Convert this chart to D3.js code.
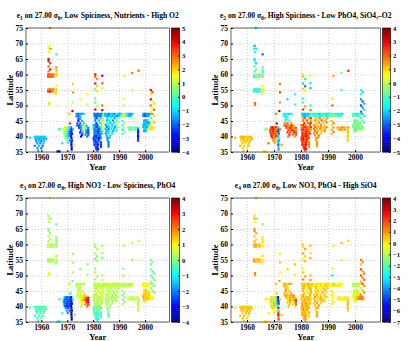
<!DOCTYPE html>
<html>
<head>
<meta charset="utf-8">
<script src="https://cdn.jsdelivr.net/npm/d3@7"></script>
<style>
  body { margin: 0; background: #fff; }
  svg { display: block; }
  .tick text { font-family: "Liberation Serif", "Times New Roman", serif; font-weight: bold; }
  .grid line { stroke: #b8b8b8; stroke-dasharray: 1,2; stroke-width: 0.7; }
  .grid path { display: none; }
</style>
</head>
<body>
<svg width="408" height="341"></svg>
<script>
// observation positions (year, latitude), same stations in every panel
var years = [
  1955.6,1957.5,1958.0,1958.5,1959.0,1959.5,1960.0,1960.5,1961.0,1961.5,
  1957.8,1958.6,1959.4,1960.2,1961.0,1961.8,
  1958.0,1959.0,1960.0,1961.0,1958.4,1959.6,1960.8,
  1957.5,1959.0,1960.5,1958.5,1960.0,1958.8,
  1963.3,1962.8,1962.8,1963.6,1963.0,1962.8,1962.8,1963.4,1962.8,1963.4,1962.8,1962.6,1963.3,1964.0,
  1964.7,1962.6,1963.3,1964.0,1964.7,1962.6,1963.3,1964.0,1964.7,1962.6,1963.3,1964.0,1964.7,1963.0,1963.0,
  1965.8,1965.8,1965.8,1965.8,1965.8,1965.8,1965.8,1965.8,1965.8,1965.6,
  1966.3,1967.0,1967.3,1966.8,
  1969.0,1969.6,1970.2,1970.8,1971.5,1968.6,1969.2,1969.8,1970.4,1971.0,1971.6,1972.2,
  1968.6,1969.2,1969.8,1970.4,1971.0,1971.6,1968.8,1969.4,1970.0,1970.6,1971.2,1971.8,
  1969.0,1969.6,1970.2,1970.8,1971.5,1969.4,1970.4,1971.6,1969.8,1971.0,1971.8,
  1970.2,1971.6,1971.6,1972.8,1971.7,1971.7,1971.0,1968.0,
  1972.2,1972.2,1972.2,1972.0,1975.0,1977.8,1977.8,1970.8,
  1973.6,1974.3,1975.0,1975.7,1976.4,1973.6,1974.3,1975.0,1974.3,1975.0,1974.3,1975.7,
  1973.9,1975.0,1976.4,1973.9,1974.6,1975.3,1976.0,1976.7,1977.4,
  1974.6,1975.3,1976.0,1976.7,1977.4,1978.1,1975.3,1976.0,1976.7,1977.4,1978.1,
  1975.0,1976.0,1977.4,1978.1,1975.7,1977.0,1978.1,1975.3,1977.7,
  1980.8,1980.8,1981.5,1980.8,1981.5,1980.8,1981.5,1980.8,1980.8,1981.5,1980.8,1983.5,1983.5,1983.5,1983.5,1983.5,
  1980.5,1981.2,1981.9,1982.6,1983.3,1984.0,1980.5,1981.2,1981.9,1982.6,1983.3,1984.0,
  1980.8,1981.5,1982.9,1983.6,1980.8,1982.2,1983.6,1981.2,1982.6,1983.6,
  1980.2,1980.9,1981.6,1983.3,1980.2,1980.9,1981.6,1982.3,1983.0,1983.7,
  1980.2,1980.9,1981.6,1982.3,1983.0,1983.7,1980.5,1981.2,1981.9,1982.6,1983.3,
  1980.5,1981.2,1981.9,1982.6,1983.3,1980.5,1981.2,1981.9,1982.6,
  1980.2,1980.9,1981.6,1982.3,1983.0,1980.2,1980.9,1981.6,1982.3,
  1980.5,1981.2,1981.9,1983.0,1980.5,1981.2,1981.9,1983.0,1980.9,1981.6,1983.0,1981.2,
  1981.9,1981.6,
  1984.7,1985.4,1986.1,1986.8,1987.5,1988.2,1988.9,1989.6,1990.3,1991.0,1991.7,1992.4,1993.1,1993.8,1994.5,1995.2,
  1984.7,1985.6,1986.5,1987.4,1988.3,1989.2,1990.1,1991.0,1991.9,1992.8,1993.7,1994.6,
  1985.5,1986.9,1988.3,1989.7,1985.2,1986.2,1987.6,1989.0,1985.5,1986.6,1988.0,1989.4,
  1984.8,1985.9,1987.3,1988.7,1985.2,1986.2,1987.3,1988.4,1989.4,
  1984.8,1985.9,1987.0,1988.0,1989.0,1985.2,1986.2,1987.6,1988.7,
  1984.8,1985.9,1987.3,1985.2,1986.6,1985.5,1986.2,1985.5,1985.9,
  1985.9,1985.9,1991.6,1991.6,1992.0,1991.3,1992.0,1991.3,1992.0,1991.3,1992.0,
  1993.5,1994.3,1995.1,1995.9,1996.7,1997.5,1993.9,1994.7,1995.5,1996.3,1995.0,1995.0,1997.5,1991.3,
  1997.3,1997.3,1997.3,1997.3,1997.3,1997.3,
  1999.3,2000.0,2000.7,2001.4,2002.1,1999.3,2000.0,2000.7,2001.4,
  1999.6,2000.3,2001.0,1999.6,2000.3,2001.0,2001.7,
  1999.3,2000.0,2000.7,2001.4,2002.1,1999.3,2000.0,2000.7,2001.4,2002.1,2002.8,
  1999.6,2000.3,2001.0,2001.7,2002.4,2003.1,1999.6,2000.3,
  2002.2,2002.8,2002.2,2002.2,2002.8,2003.4,2002.2,2002.8,2003.4,2002.2,2002.8,2003.4,2002.2,2002.8,2003.4
];
var lats = [
  39.6,39.9,39.9,39.9,39.9,39.9,39.9,39.9,39.9,39.9,
  39.2,39.2,39.2,39.2,39.2,39.2,
  38.5,38.5,38.5,38.5,37.8,37.8,37.8,
  37.0,37.0,37.0,36.2,36.2,35.4,
  75.0,69.2,68.3,68.3,67.2,65.0,64.3,63.6,62.6,61.6,61.0,60.0,60.0,60.0,
  60.0,59.3,59.3,59.3,59.3,55.2,55.2,55.2,55.2,54.5,54.5,54.5,54.5,50.8,50.2,
  66.5,62.3,61.5,60.8,60.0,59.3,56.3,55.2,54.5,53.8,
  35.2,35.2,42.5,42.2,
  43.0,43.0,43.0,43.0,43.0,42.3,42.3,42.3,42.3,42.3,42.3,42.3,
  41.6,41.6,41.6,41.6,41.6,41.6,40.9,40.9,40.9,40.9,40.9,40.9,
  40.2,40.2,40.2,40.2,40.2,39.5,39.5,39.5,38.7,38.7,38.7,
  38.0,38.0,37.3,37.3,36.5,35.8,44.2,37.8,
  57.0,54.2,51.0,48.2,52.0,53.6,50.3,47.3,
  47.3,47.3,47.3,47.3,47.3,46.5,46.5,46.5,45.7,45.7,45.0,45.0,
  44.2,44.2,44.2,43.5,43.5,43.5,43.5,43.5,43.5,
  42.8,42.8,42.8,42.8,42.8,42.8,42.0,42.0,42.0,42.0,42.0,
  41.3,41.3,41.3,41.3,40.6,40.6,40.6,40.0,40.0,
  60.0,59.3,58.5,57.1,56.2,55.4,54.6,52.2,51.0,49.7,48.7,59.6,57.2,55.6,50.0,48.5,
  47.3,47.3,47.3,47.3,47.3,47.3,46.6,46.6,46.6,46.6,46.6,46.6,
  45.9,45.9,45.9,45.9,45.2,45.2,45.2,44.4,44.4,44.4,
  43.7,43.7,43.7,43.7,43.0,43.0,43.0,43.0,43.0,43.0,
  42.3,42.3,42.3,42.3,42.3,42.3,41.6,41.6,41.6,41.6,41.6,
  40.9,40.9,40.9,40.9,40.9,40.2,40.2,40.2,40.2,
  39.5,39.5,39.5,39.5,39.5,38.8,38.8,38.8,38.8,
  38.1,38.1,38.1,38.1,37.4,37.4,37.4,37.4,36.7,36.7,36.7,36.0,
  36.0,35.5,
  47.3,47.3,47.3,47.3,47.3,47.3,47.3,47.3,47.3,47.3,47.3,47.3,47.3,47.3,47.3,47.3,
  46.6,46.6,46.6,46.6,46.6,46.6,46.6,46.6,46.6,46.6,46.6,46.6,
  45.9,45.9,45.9,45.9,45.2,45.2,45.2,45.2,44.5,44.5,44.5,44.5,
  43.8,43.8,43.8,43.8,43.1,43.1,43.1,43.1,43.1,
  42.4,42.4,42.4,42.4,42.4,41.7,41.7,41.7,41.7,
  41.0,41.0,41.0,40.3,40.3,39.6,39.6,38.9,38.2,
  37.5,36.8,52.2,50.0,59.6,45.0,44.3,43.6,42.9,42.2,41.5,
  42.9,42.9,42.9,42.9,42.9,42.9,42.2,42.2,42.2,42.2,60.5,55.0,61.2,40.8,
  42.2,41.5,40.8,40.1,39.4,38.7,
  47.3,47.3,47.3,47.3,47.3,46.6,46.6,46.6,46.6,
  45.2,45.2,45.2,44.5,44.5,44.5,44.5,
  43.8,43.8,43.8,43.8,43.8,43.1,43.1,43.1,43.1,43.1,43.1,
  42.4,42.4,42.4,42.4,42.4,42.4,41.7,41.7,
  55.0,54.3,53.6,52.0,51.3,50.6,50.0,49.3,48.6,48.0,47.3,46.6,45.9,45.2,44.5
];

// mode amplitudes e1..e4 at each station
var e1 = [
  -0.8,-1.0,-0.9,-1.2,-0.8,-1.0,-1.3,-0.9,-1.1,-1.0,
  -1.3,-1.0,-1.4,-0.9,-1.2,-1.1,
  -1.5,-1.2,-1.8,-1.0,-1.4,-1.6,-1.1,
  -1.6,-1.3,-1.9,-1.5,-2.0,-1.2,
  2.6,1.4,1.5,2.5,1.2,3.8,4.0,3.4,3.0,3.9,2.8,3.0,3.3,2.7,
  3.1,3.3,2.9,3.5,2.6,2.5,3.0,2.7,2.8,3.2,3.9,2.9,2.6,1.8,1.5,
  -0.3,2.6,2.2,1.8,2.4,1.6,1.4,2.2,1.9,2.0,
  -3.0,-3.2,0.0,-0.3,
  1.5,1.0,0.5,-0.5,-1.5,1.2,1.6,0.8,0.0,-1.0,-3.0,-1.2,
  1.3,0.8,0.2,-0.8,-2.0,-3.2,1.0,0.5,-0.3,-1.2,-2.5,-3.4,
  0.8,0.2,-0.6,-1.5,-2.8,0.5,-0.8,-3.0,0.2,-1.8,-3.3,
  -0.5,-3.0,-3.2,1.2,-3.5,-3.6,3.5,-0.8,
  2.0,2.6,1.5,4.2,1.3,1.6,1.2,2.0,
  -1.5,-2.0,-1.2,-1.6,-0.8,-1.8,-2.2,-1.4,-2.0,-1.5,-2.5,-1.2,
  -2.3,-1.8,-1.0,-2.0,-2.5,-1.5,0.5,1.0,-1.2,
  -2.2,-1.6,0.8,1.2,-0.5,-1.8,-2.0,0.2,1.0,-1.5,-2.3,
  -2.6,-1.2,-2.0,-2.4,-2.8,-1.5,-2.2,-3.0,-1.8,
  4.0,3.2,2.6,3.8,2.0,0.5,1.8,0.2,0.0,1.5,4.0,4.2,3.0,1.8,2.8,4.5,
  -2.0,-1.6,-2.2,-1.4,-1.8,0.5,-1.8,-2.3,-1.5,-2.0,-1.2,1.2,
  -1.5,-2.0,-1.0,1.8,-1.8,-1.2,2.2,-2.2,-0.8,1.5,
  -1.2,-1.8,-2.2,1.0,-1.0,-1.6,-2.4,-1.3,-0.5,1.6,
  -1.4,-2.0,-1.6,-2.5,-1.0,1.2,-1.8,-2.2,-2.6,-1.5,-0.8,
  -2.0,-1.5,-2.4,-1.8,-1.2,-2.2,-2.8,-1.6,-2.0,
  -2.5,-1.8,-2.2,-3.0,-1.5,-2.0,-2.6,-1.7,-2.4,
  -2.2,-2.8,-1.9,-2.5,-2.6,-2.0,-3.0,-2.4,-2.3,-2.9,-2.6,-2.4,
  -2.7,-2.3,
  -1.5,-1.0,-1.8,-0.8,-1.2,-1.6,-0.6,-1.0,-1.4,-0.5,1.8,2.0,-0.8,-1.2,-1.5,-1.0,
  -1.2,-1.6,-0.9,-1.4,-1.0,-1.8,-1.2,0.8,1.5,-0.6,-1.3,-1.1,
  -1.0,-0.5,-1.4,0.2,-1.2,-0.8,-1.6,-0.3,-0.6,-1.3,-0.9,0.5,
  -1.5,-0.8,-1.2,0.0,-1.8,-1.0,-0.5,-1.4,0.3,
  -1.2,-1.8,-0.6,-1.0,0.2,-1.5,-0.9,-1.3,-0.4,
  -1.6,-1.1,-0.7,-1.4,-1.0,-1.7,-1.2,-1.5,-1.8,
  -1.9,-2.0,1.5,1.2,1.4,-0.5,0.8,-0.2,1.0,-0.8,0.3,
  0.5,-0.2,0.8,0.3,-0.5,0.6,0.2,-0.3,0.6,0.0,2.8,1.2,3.0,0.0,
  -2.5,-2.8,-2.2,-3.0,-2.6,-2.4,
  -1.5,-2.0,-1.2,-1.8,-1.0,-1.6,-2.2,-1.4,-1.1,
  -1.2,-1.6,-0.9,-1.4,-1.0,-1.8,-1.3,
  -1.0,-1.5,-0.8,-1.2,1.5,-1.3,-0.9,-1.6,0.5,1.8,2.0,
  -0.8,-1.2,0.8,1.5,2.0,1.8,-1.4,-1.0,
  3.8,3.2,1.8,4.0,1.5,2.0,2.8,1.6,3.0,1.2,2.6,1.8,0.2,1.5,2.2
];
var e2 = [
  1.2,1.0,1.3,1.1,1.4,1.2,1.0,1.3,1.1,1.2,
  1.1,1.3,0.9,1.2,1.0,1.4,
  1.0,1.3,1.1,1.4,1.2,0.9,1.1,
  1.2,1.0,1.3,1.1,0.8,1.0,
  -2.0,-2.4,-1.8,-1.5,-1.2,-1.8,-1.5,-1.9,-1.0,-0.8,-1.2,1.0,0.8,-0.5,
  -1.2,-1.6,-1.4,0.9,-1.0,-1.5,-1.8,-1.3,-1.6,-1.4,-1.2,-1.7,-1.3,2.0,1.8,
  -3.0,-1.0,-0.6,-1.2,-0.8,1.2,0.6,0.5,0.9,0.4,
  1.0,0.8,-0.5,-0.3,
  2.2,2.8,1.8,2.5,-1.5,2.0,2.5,3.0,2.2,1.5,-3.0,2.0,
  2.5,2.0,2.8,1.8,2.4,-3.5,2.2,2.7,1.9,2.3,1.5,-2.8,
  2.6,2.1,1.7,2.5,-2.0,2.3,1.8,-1.8,2.0,1.2,-2.5,
  1.5,-2.2,-3.0,1.5,-2.0,-2.5,3.5,2.0,
  1.8,2.2,1.5,3.5,-1.8,-1.5,-1.2,1.8,
  -1.5,-1.8,-1.2,-2.0,-1.6,-1.3,-1.8,-1.5,-1.7,-1.2,-1.4,-1.0,
  1.8,2.2,1.5,2.0,2.4,1.6,1.9,2.5,1.2,
  2.3,1.8,2.6,2.0,1.5,2.2,2.4,1.9,2.7,2.0,1.6,
  2.5,2.0,2.8,2.2,2.6,1.8,2.4,2.0,1.5,
  0.8,1.2,-1.5,-2.0,-2.8,1.0,0.5,-1.6,-1.0,1.5,2.5,0.5,-1.8,-2.2,-1.5,2.0,
  -2.0,-2.5,-1.8,-2.2,-1.5,-0.5,-1.8,-2.2,-2.0,-1.6,-1.0,0.5,
  1.5,2.0,1.2,2.5,1.8,2.2,1.5,2.4,1.9,2.6,
  2.0,2.5,1.8,2.2,1.6,2.3,2.7,2.0,1.5,2.4,
  2.2,2.8,2.0,2.4,1.8,1.5,2.5,2.0,2.8,2.3,1.7,
  2.6,2.2,2.9,2.0,2.4,2.7,2.3,3.0,2.1,
  2.4,2.8,2.1,2.6,2.0,2.5,3.0,2.2,2.7,
  2.6,2.2,3.0,1.8,2.8,2.4,3.2,2.0,2.5,2.9,1.6,2.7,
  2.8,2.4,
  -1.8,-1.5,-1.2,-2.0,-1.6,-1.0,-1.4,-1.8,-1.2,-1.5,-0.8,-1.0,-1.3,-1.6,-1.2,-1.8,
  -1.4,-1.0,-1.6,-1.2,-0.8,-1.5,-1.1,-0.5,1.0,-0.9,-1.3,-1.0,
  1.2,1.8,1.0,1.5,1.6,1.2,2.0,1.4,1.0,1.7,1.3,1.8,
  1.5,1.2,1.8,1.0,2.0,1.4,1.6,1.1,1.7,
  1.8,1.3,1.6,1.0,1.4,2.0,1.5,1.2,1.7,
  1.6,1.9,1.2,1.5,1.8,1.3,1.7,1.4,1.6,
  1.7,1.5,1.0,2.0,1.5,1.2,1.8,1.0,1.6,1.3,1.9,
  1.5,1.2,1.8,1.4,1.0,1.6,1.3,1.7,1.1,1.5,-0.5,-1.0,2.5,1.2,
  1.0,1.3,0.8,1.2,0.9,1.1,
  -1.2,-1.0,-1.5,-0.8,-1.3,-1.1,-0.6,-1.4,-1.0,
  -0.5,-0.8,-0.3,-0.6,-1.0,-0.4,-0.7,
  -0.8,-0.4,-1.0,-0.6,-0.3,-0.5,-0.9,-0.2,-0.7,-0.4,-0.6,
  -0.6,-0.9,-0.3,-0.5,-0.8,-0.2,-0.7,-0.4,
  -1.5,-2.0,-1.2,-2.5,-3.0,-2.2,-3.2,-2.6,-1.8,-2.8,-2.0,-1.5,-1.2,-0.8,-1.0
];
var e3 = [
  -0.3,-0.5,-0.4,-0.2,-0.6,-0.3,-0.5,-0.2,-0.4,-0.3,
  -0.5,-0.3,-0.6,-0.4,-0.2,-0.5,
  -0.6,-0.4,-0.7,-0.3,-0.5,-0.6,-0.4,
  -0.7,-0.5,-0.8,-0.6,-0.4,-0.5,
  0.5,0.2,0.4,0.3,0.6,0.1,0.3,0.2,0.5,0.4,0.3,0.5,0.7,0.4,
  0.3,0.4,0.6,0.2,0.5,0.4,0.3,0.6,0.5,0.2,0.4,0.3,0.5,1.0,0.9,
  -0.3,0.1,0.2,0.0,0.3,0.2,0.1,0.4,0.3,0.2,
  -0.8,-0.9,0.3,0.2,
  -1.5,-2.0,-2.5,-1.8,-3.0,-1.2,-2.2,-2.6,-1.9,-2.8,-3.2,-1.0,
  -1.8,-2.4,-2.0,-2.9,-2.2,-3.5,-1.6,-2.3,-2.7,-2.0,-3.0,-3.3,
  -2.1,-2.5,-2.8,-2.3,-3.4,-2.0,-2.6,-3.6,-1.8,-2.5,-3.8,
  -2.0,-3.5,-3.7,-0.5,-3.8,-3.9,-1.0,-0.6,
  0.2,0.4,0.3,-0.2,0.0,0.1,0.2,0.6,
  0.3,0.5,0.4,0.6,0.3,0.4,0.5,0.3,0.4,0.6,0.5,0.7,
  0.5,0.6,0.8,0.4,0.7,0.5,0.9,1.5,0.8,
  0.6,0.8,1.2,1.8,2.5,3.2,0.7,1.5,2.2,3.0,3.6,
  0.8,1.3,2.8,3.4,0.6,2.0,2.6,0.5,2.2,
  0.2,0.0,0.4,0.3,0.1,-0.2,0.5,0.0,0.3,0.2,0.4,0.5,0.2,-0.1,0.3,0.6,
  0.4,0.6,0.3,0.5,0.7,0.4,0.5,0.3,0.6,0.4,0.5,0.3,
  0.5,0.3,0.6,0.8,0.4,0.7,0.5,0.3,0.6,0.9,
  0.6,0.4,0.7,0.5,0.3,0.6,0.4,0.8,0.5,0.7,
  0.4,0.7,0.5,0.3,0.6,0.8,0.5,0.2,0.4,0.6,0.3,
  0.3,0.5,0.2,0.6,0.4,0.1,0.3,0.0,0.4,
  -0.2,0.0,-0.4,0.2,-0.3,-0.5,-0.1,-0.3,0.0,
  -0.4,-0.6,-0.3,-0.5,-0.7,-0.5,-0.8,-0.4,-0.6,-0.7,-0.5,-0.8,
  -0.7,-0.9,
  0.5,0.6,0.4,0.7,0.5,0.3,0.6,0.4,0.5,0.7,0.4,0.6,0.5,0.3,0.6,0.4,
  0.4,0.5,0.7,0.3,0.6,0.4,0.5,0.6,0.3,0.5,0.4,0.6,
  0.3,0.5,0.2,0.4,0.6,0.3,0.5,0.2,0.4,0.6,0.3,0.5,
  0.4,0.2,0.5,0.3,0.6,0.4,0.2,0.5,0.3,
  0.3,0.5,0.2,0.4,0.6,0.3,0.5,0.2,0.4,
  0.4,0.2,0.5,0.3,0.1,0.2,0.4,0.0,-0.2,
  -0.3,-0.4,0.0,0.2,0.3,0.1,0.0,-0.1,0.2,0.0,0.1,
  0.5,0.6,0.4,0.5,0.7,0.4,0.6,0.3,0.5,0.4,0.5,0.2,0.6,0.2,
  0.5,0.6,0.4,0.5,0.7,0.5,
  1.2,1.0,0.8,1.1,0.6,1.0,0.9,0.7,0.8,
  1.3,1.5,1.0,1.2,1.6,1.1,1.4,
  1.4,1.6,1.2,1.5,1.0,1.7,1.3,1.5,1.2,1.1,0.8,
  1.5,1.2,1.6,1.3,1.0,0.8,1.4,1.1,
  0.2,0.0,-0.3,0.1,-0.5,-0.2,0.0,-0.4,-0.1,0.2,-0.3,0.0,0.3,0.1,-0.2
];
var e4 = [
  0.3,0.5,0.2,0.6,0.4,0.3,0.7,0.2,0.5,0.4,
  0.4,0.6,0.3,0.5,0.8,0.2,
  0.5,0.3,0.6,0.4,0.2,0.5,0.7,
  0.4,0.6,0.3,0.5,0.2,0.4,
  0.6,0.2,0.8,0.4,-0.2,0.9,1.2,0.7,0.5,0.3,0.8,0.6,0.9,0.2,
  0.7,0.5,0.9,0.3,0.6,0.8,0.4,0.7,0.5,0.9,0.6,0.3,0.8,1.2,1.0,
  -1.5,0.2,0.0,0.3,-0.2,0.1,0.2,0.0,0.3,0.1,
  0.0,0.2,0.1,-0.2,
  0.2,-0.5,-1.5,0.5,-5.5,0.3,-0.8,-2.0,0.0,-3.0,-6.0,0.4,
  -0.3,0.5,-1.2,0.2,-2.5,-6.5,0.0,-0.6,1.0,-1.5,-3.5,-4.5,
  0.3,-0.8,0.6,-1.8,-2.0,0.5,-0.5,2.5,0.0,-1.0,-2.5,
  0.2,2.0,2.8,0.5,1.5,2.0,0.5,0.0,
  0.1,0.5,-0.2,0.8,0.3,0.6,-0.5,0.4,
  0.5,0.8,0.3,1.0,0.6,0.4,0.9,0.5,0.7,0.3,1.2,0.6,
  0.8,0.5,1.0,0.6,1.2,0.4,0.9,0.7,1.1,
  0.6,0.2,0.9,0.4,1.1,0.1,0.5,1.0,0.2,0.8,2.5,
  0.4,0.8,0.1,2.0,0.6,0.2,1.5,0.5,0.0,
  0.5,0.2,0.8,1.0,0.3,-0.3,0.6,0.0,0.4,0.9,1.2,0.6,0.3,0.8,0.5,1.0,
  0.3,0.6,0.1,0.8,0.2,0.5,0.3,0.7,0.0,0.4,0.6,0.1,
  0.6,0.2,0.9,0.4,0.8,0.1,1.1,0.5,0.3,0.7,
  0.3,0.8,0.1,0.6,0.4,0.9,0.2,0.7,0.5,0.0,
  0.6,0.2,1.0,0.4,0.8,0.1,0.5,0.9,0.3,0.7,0.2,
  0.8,0.4,1.1,0.2,0.6,0.9,0.3,0.7,0.5,
  0.5,1.0,0.2,0.8,0.6,0.3,1.1,0.4,0.9,
  0.6,1.0,0.4,0.8,1.1,0.5,0.9,0.2,0.7,1.2,0.4,0.8,
  0.6,1.0,
  0.2,-0.1,0.3,0.0,0.2,-0.2,0.1,0.3,0.0,-0.3,0.2,0.4,0.0,-0.2,0.1,-0.1,
  0.1,0.3,-0.1,0.2,0.0,0.4,0.1,-0.2,0.3,0.0,0.2,-0.3,
  0.6,0.2,0.8,0.4,0.1,0.7,0.3,0.9,0.5,0.2,0.8,0.0,
  0.4,0.8,0.2,0.6,0.9,0.3,0.7,0.1,0.5,
  0.6,0.2,0.8,0.4,0.0,0.7,0.3,0.9,0.5,
  0.5,0.9,0.2,0.6,1.0,0.4,0.8,0.3,0.7,
  0.8,1.0,0.0,-3.0,0.2,0.1,-0.2,0.3,0.0,-0.1,0.2,
  0.0,0.2,-0.2,0.1,0.3,-0.1,0.2,0.0,0.1,-0.2,0.5,0.0,0.3,0.1,
  0.6,0.4,0.8,0.5,0.7,0.3,
  -1.0,-0.8,-1.3,-0.6,0.2,-0.9,-1.2,-0.5,-0.7,
  -0.6,-1.0,-0.4,-0.8,-0.5,-1.2,-0.3,
  -0.5,-0.2,-0.8,0.0,1.2,-0.3,-0.6,0.5,1.0,1.4,1.2,
  -0.2,0.3,0.8,1.2,1.5,1.0,-0.4,0.0,
  1.5,1.2,0.5,1.8,1.0,1.4,2.0,1.3,1.6,0.8,1.7,1.1,-1.0,0.6,1.2
];

var yearTicks = [1960, 1970, 1980, 1990, 2000];
var latTicks = [35, 40, 45, 50, 55, 60, 65, 70, 75];
var cbRanges = [[-4, 5], [-5, 4], [-4, 4], [-7, 4]];
var modeNums = ['1', '2', '3', '4'];
var titleTails = [
  ', Low Spiciness, Nutrients - High O2',
  ', High Spiciness - Low PhO4, SiO4,\u2013O2',
  ', High NO3 - Low Spiciness, PhO4',
  ', Low NO3, PhO4 - High SiO4'
];
var modeValues = [e1, e2, e3, e4];

var serif = '"Liberation Serif", "Times New Roman", serif';
var svg = d3.select('svg');
svg.append('rect').attr('width', 408).attr('height', 341).attr('fill', '#fff');

// panel frames (left, right, top, bottom)
var frames = [
  { l: 26, r: 169.5, t: 28, b: 152 },
  { l: 231, r: 380.5, t: 28, b: 152 },
  { l: 26, r: 169.5, t: 198, b: 322 },
  { l: 231, r: 380.5, t: 198, b: 322 }
];

// MATLAB style jet colormap
function jet(t) {
  t = Math.max(0, Math.min(1, t));
  function c(v) { return Math.round(255 * Math.max(0, Math.min(1, v))); }
  return d3.rgb(c(1.5 - Math.abs(4 * t - 3)), c(1.5 - Math.abs(4 * t - 2)), c(1.5 - Math.abs(4 * t - 1)));
}

var n = Math.min(years.length, lats.length, e1.length, e2.length, e3.length, e4.length);
var stations = d3.range(n).map(function (i) { return { year: years[i], lat: lats[i] }; });

frames.forEach(function (f, p) {
  var g = svg.append('g');
  var x = d3.scaleLinear().domain([1954.1, 2009.4]).range([f.l, f.r]);
  var y = d3.scaleLinear().domain([35, 75]).range([f.b, f.t]);
  var cb = cbRanges[p];
  var norm = d3.scaleLinear().domain(cb).range([0, 1]).clamp(true);
  var vals = modeValues[p];

  // grid
  g.append('g').attr('class', 'grid')
    .attr('transform', 'translate(0,' + f.b + ')')
    .call(d3.axisBottom(x).tickValues(yearTicks).tickSize(-(f.b - f.t)).tickFormat(''));
  g.append('g').attr('class', 'grid')
    .attr('transform', 'translate(' + f.l + ',0)')
    .call(d3.axisLeft(y).tickValues(latTicks).tickSize(-(f.r - f.l)).tickFormat(''));

  // points
  var ms = 2.2;
  g.append('g').selectAll('rect')
    .data(stations)
    .enter().append('rect')
    .attr('x', function (d) { return x(d.year) - ms / 2; })
    .attr('y', function (d) { return y(d.lat) - ms / 2; })
    .attr('width', ms).attr('height', ms)
    .attr('fill', function (d, i) { return jet(norm(vals[i])); });

  // axes box
  g.append('rect').attr('x', f.l).attr('y', f.t)
    .attr('width', f.r - f.l).attr('height', f.b - f.t)
    .attr('fill', 'none').attr('stroke', '#000').attr('stroke-width', 0.6);

  var xa = g.append('g').attr('transform', 'translate(0,' + f.b + ')')
    .call(d3.axisBottom(x).tickValues(yearTicks).tickFormat(d3.format('d'))
      .tickSizeInner(-2).tickSizeOuter(0).tickPadding(3));
  xa.select('.domain').remove();
  xa.selectAll('text').attr('font-size', 7.5).attr('fill', '#000');

  var ya = g.append('g').attr('transform', 'translate(' + f.l + ',0)')
    .call(d3.axisLeft(y).tickValues(latTicks).tickSizeInner(-2).tickSizeOuter(0).tickPadding(3));
  ya.select('.domain').remove();
  ya.selectAll('text').attr('font-size', 7.5).attr('fill', '#000');

  // axis labels
  g.append('text').attr('x', (f.l + f.r) / 2).attr('y', f.b + 18)
    .attr('text-anchor', 'middle').attr('font-family', serif).attr('font-weight', 'bold')
    .attr('font-size', 8.5).text('Year');
  g.append('text')
    .attr('transform', 'translate(' + (f.l - 13) + ',' + ((f.t + f.b) / 2) + ')rotate(-90)')
    .attr('text-anchor', 'middle').attr('font-family', serif).attr('font-weight', 'bold')
    .attr('font-size', 8.5).text('Latitude');

  // title
  var title = g.append('text').attr('x', (f.l + f.r) / 2).attr('y', f.t - 10)
    .attr('text-anchor', 'middle').attr('font-family', serif).attr('font-weight', 'bold')
    .attr('font-size', 7.6);
  title.append('tspan').text('e');
  title.append('tspan').attr('dy', 2).attr('font-size', 5.5).text(modeNums[p]);
  title.append('tspan').attr('dy', -2).text(' on 27.00 \u03c3');
  title.append('tspan').attr('dy', 2).attr('font-size', 5.5).text('\u03b8');
  title.append('tspan').attr('dy', -2).text(titleTails[p]);

  // colorbar
  var cx = f.r + 2, cw = 8;
  var cy = d3.scaleLinear().domain(cb).range([f.b, f.t]);
  var steps = d3.range(64);
  g.append('g').selectAll('rect')
    .data(steps)
    .enter().append('rect')
    .attr('x', cx)
    .attr('y', function (s) { return cy(cb[0] + (s + 1) * (cb[1] - cb[0]) / 64); })
    .attr('width', cw)
    .attr('height', (f.b - f.t) / 64 + 0.4)
    .attr('fill', function (s) { return jet((s + 0.5) / 64); });
  g.append('rect').attr('x', cx).attr('y', f.t).attr('width', cw).attr('height', f.b - f.t)
    .attr('fill', 'none').attr('stroke', '#000').attr('stroke-width', 0.6);
  var ca = g.append('g').attr('transform', 'translate(' + (cx + cw) + ',0)')
    .call(d3.axisRight(cy).tickValues(d3.range(cb[0], cb[1] + 1)).tickSizeInner(-1.5).tickSizeOuter(0).tickPadding(2.5));
  ca.select('.domain').remove();
  ca.selectAll('text').attr('font-size', 6.5).attr('fill', '#000');
});
</script>
</body>
</html>
